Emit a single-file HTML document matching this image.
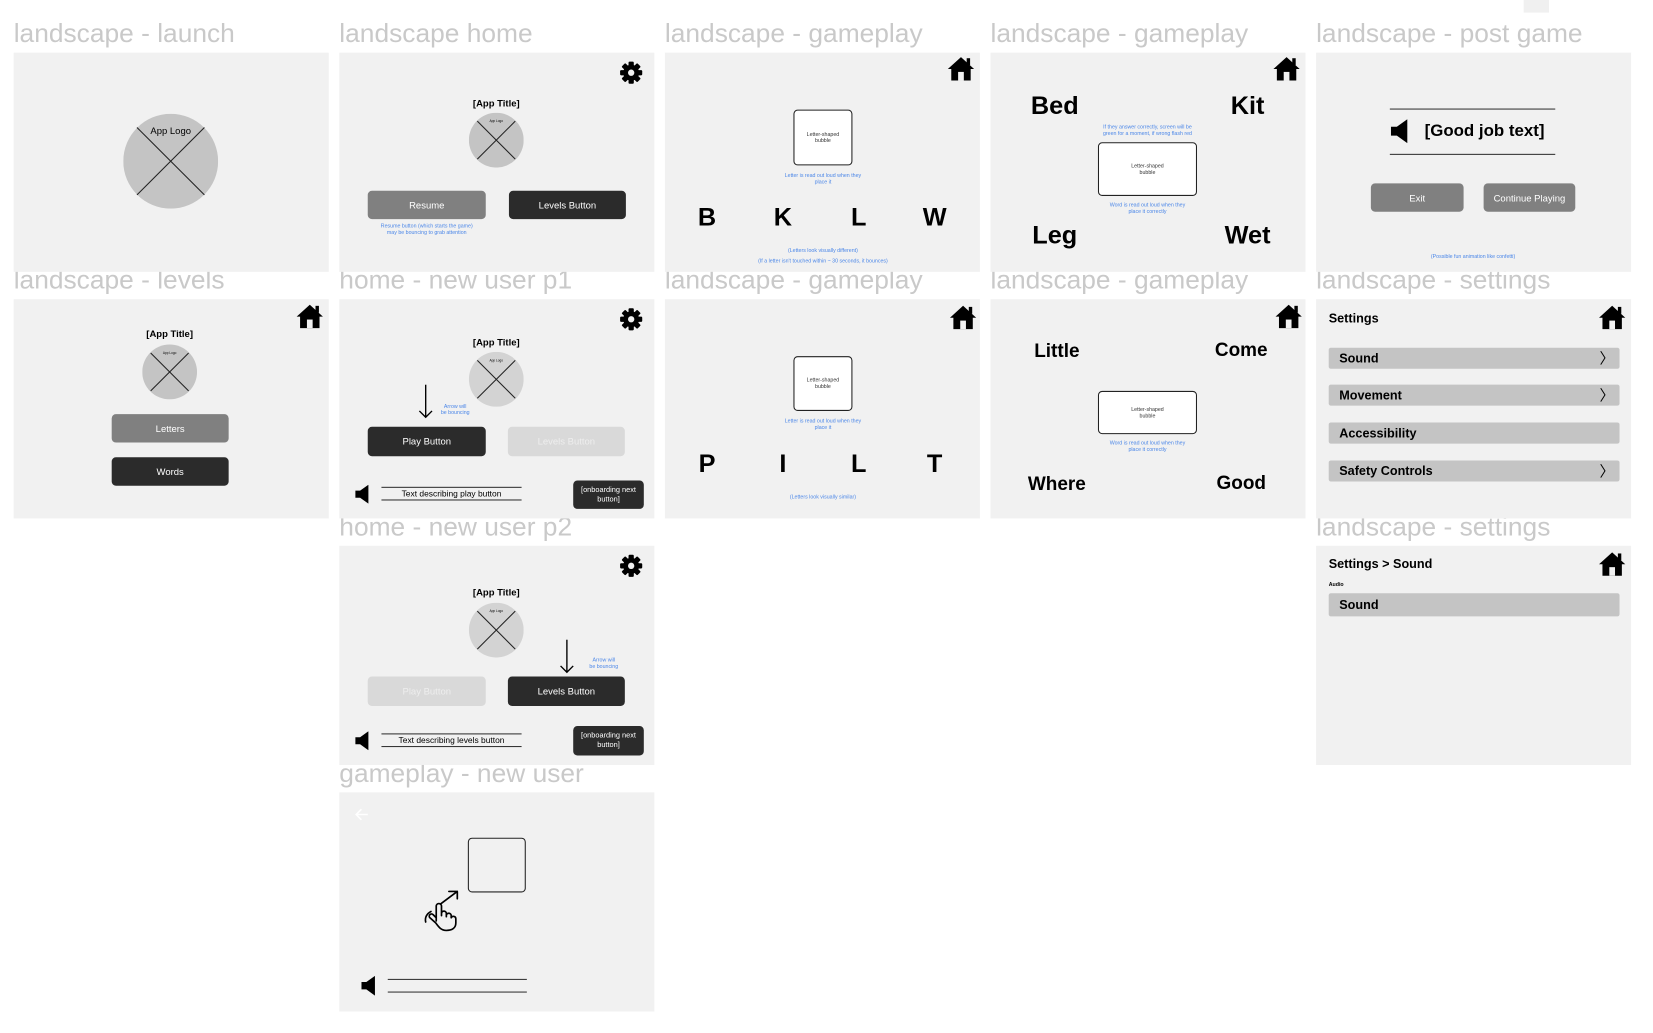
<!DOCTYPE html>
<html><head><meta charset="utf-8"><style>
html,body{margin:0;padding:0;background:#fff;width:1653px;height:1030px;overflow:hidden}
#w{position:absolute;left:0;top:0;width:1570px;height:980px;transform:scale(1.0537);transform-origin:0 0;font-family:"Liberation Sans",sans-serif}
.p{position:absolute;width:299px;height:208px;background:#f1f1f1}
.lbl{position:absolute;font-size:25px;color:#c9c9c9;white-space:nowrap;line-height:28px}
.a{position:absolute}
.c{position:absolute;width:240px;margin-left:-120px;text-align:center;white-space:nowrap}
.bt{position:absolute;border-radius:4px;color:#fff;font-size:9px;display:flex;align-items:center;justify-content:center;text-align:center;line-height:10px}
.dk{background:#2b2b2b}.md{background:#808080}.lt{background:#d9d9d9;color:#eee}
.blue{color:#4a86e8;font-size:5px;line-height:6px}
.bub{position:absolute;background:#fff;border:1.5px solid #222;border-radius:4px;box-sizing:border-box;font-size:5px;line-height:6px;display:flex;align-items:center;justify-content:center;text-align:center;color:#333}
.big{font-weight:bold;font-size:24px;color:#000;line-height:28px}
.wd{font-weight:bold;font-size:18px;color:#000;line-height:22px}
.row{position:absolute;left:12px;width:276px;height:20px;background:#c4c4c4;border-radius:2px;font-weight:bold;font-size:12px;line-height:20px;box-sizing:border-box;padding-left:10px}
.chev{position:absolute;right:5px;top:0;font-size:14px;font-weight:normal}
</style></head><body><div id="w">
<div class="a" style="left:1446px;top:0;width:24px;height:12px;background:#f0f0f0"></div>

<div class="lbl" style="left:13px;top:18px">landscape - launch</div>
<div class="lbl" style="left:322px;top:18px">landscape home</div>
<div class="lbl" style="left:631px;top:18px">landscape - gameplay</div>
<div class="lbl" style="left:940px;top:18px">landscape - gameplay</div>
<div class="lbl" style="left:1249px;top:18px">landscape - post game</div>
<div class="lbl" style="left:13px;top:252px">landscape - levels</div>
<div class="lbl" style="left:322px;top:252px">home - new user p1</div>
<div class="lbl" style="left:631px;top:252px">landscape - gameplay</div>
<div class="lbl" style="left:940px;top:252px">landscape - gameplay</div>
<div class="lbl" style="left:1249px;top:252px">landscape - settings</div>
<div class="lbl" style="left:322px;top:486px">home - new user p2</div>
<div class="lbl" style="left:1249px;top:486px">landscape - settings</div>
<div class="lbl" style="left:322px;top:720px">gameplay - new user</div>

<div class="p" style="left:13px;top:50px">
<svg class="a" style="left:104px;top:58px" width="90" height="90"><circle cx="45" cy="45" r="45" fill="#c4c4c4"/><line x1="13" y1="13" x2="77" y2="77" stroke="#222"/><line x1="77" y1="13" x2="13" y2="77" stroke="#222"/></svg>
<div class="c" style="left:149px;top:69px;font-size:9px">App Logo</div>
</div>

<div class="p" style="left:322px;top:50px">
<svg class="a" style="left:266px;top:8px" width="22" height="22" viewBox="-11 -11 22 22"><g fill="#000"><circle r="7.5"/><rect x="-2.5" y="-10.5" width="5" height="21" rx="1"/><rect x="-2.5" y="-10.5" width="5" height="21" rx="1" transform="rotate(45)"/><rect x="-2.5" y="-10.5" width="5" height="21" rx="1" transform="rotate(90)"/><rect x="-2.5" y="-10.5" width="5" height="21" rx="1" transform="rotate(135)"/></g><circle r="3" fill="#f1f1f1"/></svg>
<div class="c" style="left:149px;top:43px;font-size:9px;font-weight:bold">[App Title]</div>
<svg class="a" style="left:123px;top:57px" width="52" height="52"><circle cx="26" cy="26" r="26" fill="#c4c4c4"/><line x1="8" y1="8" x2="44" y2="44" stroke="#222"/><line x1="44" y1="8" x2="8" y2="44" stroke="#222"/></svg>
<div class="c" style="left:149px;top:63px;font-size:3px">App Logo</div>
<div class="bt md" style="left:27px;top:131px;width:112px;height:27px">Resume</div>
<div class="bt dk" style="left:161px;top:131px;width:111px;height:27px">Levels Button</div>
<div class="c blue" style="left:83px;top:162px">Resume button (which starts the game)<br>may be bouncing to grab attention</div>
</div>

<div class="p" style="left:13px;top:284px">
<svg class="a" style="left:268px;top:4px" width="26" height="24" viewBox="0 0 24 22"><path d="M12 1 L0.5 11.5 L3.5 11.5 L3.5 21.5 L20.5 21.5 L20.5 11.5 L23.5 11.5 Z" fill="#000"/><rect x="9.5" y="14" width="5" height="7.5" fill="#f1f1f1"/><rect x="17" y="2" width="3" height="6"/></svg>
<div class="c" style="left:148px;top:28px;font-size:9px;font-weight:bold">[App Title]</div>
<svg class="a" style="left:122px;top:43px" width="52" height="52"><circle cx="26" cy="26" r="26" fill="#c4c4c4"/><line x1="8" y1="8" x2="44" y2="44" stroke="#222"/><line x1="44" y1="8" x2="8" y2="44" stroke="#222"/></svg>
<div class="c" style="left:148px;top:49px;font-size:3px">App Logo</div>
<div class="bt md" style="left:93px;top:109px;width:111px;height:27px">Letters</div>
<div class="bt dk" style="left:93px;top:150px;width:111px;height:27px">Words</div>
</div>

<div class="p" style="left:322px;top:284px">
<svg class="a" style="left:266px;top:8px" width="22" height="22" viewBox="-11 -11 22 22"><g fill="#000"><circle r="7.5"/><rect x="-2.5" y="-10.5" width="5" height="21" rx="1"/><rect x="-2.5" y="-10.5" width="5" height="21" rx="1" transform="rotate(45)"/><rect x="-2.5" y="-10.5" width="5" height="21" rx="1" transform="rotate(90)"/><rect x="-2.5" y="-10.5" width="5" height="21" rx="1" transform="rotate(135)"/></g><circle r="3" fill="#f1f1f1"/></svg>
<div class="c" style="left:149px;top:36px;font-size:9px;font-weight:bold">[App Title]</div>
<svg class="a" style="left:123px;top:50px" width="52" height="52"><circle cx="26" cy="26" r="26" fill="#d3d3d3"/><line x1="8" y1="8" x2="44" y2="44" stroke="#222"/><line x1="44" y1="8" x2="8" y2="44" stroke="#222"/></svg>
<div class="c" style="left:149px;top:56px;font-size:3px">App Logo</div>
<svg class="a" style="left:75px;top:81px" width="14" height="33"><line x1="7" y1="0" x2="7" y2="31" stroke="#000" stroke-width="1.3"/><path d="M1 25 L7 31 L13 25" fill="none" stroke="#000" stroke-width="1.3"/></svg>
<div class="c blue" style="left:110px;top:99px">Arrow will<br>be bouncing</div>
<div class="bt dk" style="left:27px;top:121px;width:112px;height:28px">Play Button</div>
<div class="bt lt" style="left:160px;top:121px;width:111px;height:28px">Levels Button</div>
<svg class="a" style="left:15px;top:176px" width="14" height="18" viewBox="0 0 12 16"><path d="M0 5 H4 L11 0 V16 L4 11 H0Z" fill="#000"/></svg>
<div class="a" style="left:40px;top:178px;width:133px;height:11px;border-top:1px solid #333;border-bottom:1px solid #333;font-size:8px;text-align:center;line-height:11px">Text describing play button</div>
<div class="bt dk" style="left:222px;top:172px;width:67px;height:27px;font-size:7px;line-height:9px">[onboarding next<br>button]</div>
</div>

<div class="p" style="left:322px;top:518px">
<svg class="a" style="left:266px;top:8px" width="22" height="22" viewBox="-11 -11 22 22"><g fill="#000"><circle r="7.5"/><rect x="-2.5" y="-10.5" width="5" height="21" rx="1"/><rect x="-2.5" y="-10.5" width="5" height="21" rx="1" transform="rotate(45)"/><rect x="-2.5" y="-10.5" width="5" height="21" rx="1" transform="rotate(90)"/><rect x="-2.5" y="-10.5" width="5" height="21" rx="1" transform="rotate(135)"/></g><circle r="3" fill="#f1f1f1"/></svg>
<div class="c" style="left:149px;top:39px;font-size:9px;font-weight:bold">[App Title]</div>
<svg class="a" style="left:123px;top:54px" width="52" height="52"><circle cx="26" cy="26" r="26" fill="#d3d3d3"/><line x1="8" y1="8" x2="44" y2="44" stroke="#222"/><line x1="44" y1="8" x2="8" y2="44" stroke="#222"/></svg>
<div class="c" style="left:149px;top:60px;font-size:3px">App Logo</div>
<svg class="a" style="left:209px;top:89px" width="14" height="33"><line x1="7" y1="0" x2="7" y2="31" stroke="#000" stroke-width="1.3"/><path d="M1 25 L7 31 L13 25" fill="none" stroke="#000" stroke-width="1.3"/></svg>
<div class="c blue" style="left:251px;top:106px">Arrow will<br>be bouncing</div>
<div class="bt lt" style="left:27px;top:124px;width:112px;height:28px">Play Button</div>
<div class="bt dk" style="left:160px;top:124px;width:111px;height:28px">Levels Button</div>
<svg class="a" style="left:15px;top:176px" width="14" height="18" viewBox="0 0 12 16"><path d="M0 5 H4 L11 0 V16 L4 11 H0Z" fill="#000"/></svg>
<div class="a" style="left:40px;top:178px;width:133px;height:11px;border-top:1px solid #333;border-bottom:1px solid #333;font-size:8px;text-align:center;line-height:11px">Text describing levels button</div>
<div class="bt dk" style="left:222px;top:171px;width:67px;height:28px;font-size:7px;line-height:9px">[onboarding next<br>button]</div>
</div>

<div class="p" style="left:322px;top:752px">
<svg class="a" style="left:14px;top:15px" width="14" height="12"><path d="M13 6 H2 M7 1 L2 6 L7 11" fill="none" stroke="#fff" stroke-width="1.5"/></svg>
<div class="a" style="left:122px;top:43px;width:55px;height:52px;border:1.5px solid #222;border-radius:4px;box-sizing:border-box"></div>
<svg class="a" style="left:78px;top:92px" width="38" height="40" viewBox="0 0 38 40"><g fill="none" stroke="#000" stroke-width="1.6" stroke-linecap="round" stroke-linejoin="round"><path d="M18 14 L34 2 M26 2 H34 V9"/><path d="M14 30 V16 a2.5 2.5 0 0 1 5 0 V25 M19 23 a2.3 2.3 0 0 1 4.6 0 V26 M23.6 25 a2.3 2.3 0 0 1 4.6 0 V27 M28.2 27 a2.3 2.3 0 0 1 4.4 1 V32 c0 5 -4 7 -9 7 c-5 0 -7 -3 -10 -7 L8 27 a2 2 0 0 1 3 -3 L14 27"/><path d="M9 21 c-4 2 -6 6 -5 10"/></g></svg>
<svg class="a" style="left:21px;top:174px" width="14" height="19" viewBox="0 0 12 16"><path d="M0 5 H4 L11 0 V16 L4 11 H0Z" fill="#000"/></svg>
<div class="a" style="left:46px;top:177px;width:132px;height:11px;border-top:1px solid #333;border-bottom:1px solid #333"></div>
</div>

<div class="p" style="left:631px;top:50px">
<svg class="a" style="left:268px;top:3px" width="26" height="24" viewBox="0 0 24 22"><path d="M12 1 L0.5 11.5 L3.5 11.5 L3.5 21.5 L20.5 21.5 L20.5 11.5 L23.5 11.5 Z" fill="#000"/><rect x="9.5" y="14" width="5" height="7.5" fill="#f1f1f1"/><rect x="17" y="2" width="3" height="6"/></svg>
<div class="bub" style="left:122px;top:54px;width:56px;height:53px">Letter-shaped<br>bubble</div>
<div class="c blue" style="left:150px;top:114px">Letter is read out loud when they<br>place it</div>
<div class="c big" style="left:40px;top:143px">B</div>
<div class="c big" style="left:112px;top:143px">K</div>
<div class="c big" style="left:184px;top:143px">L</div>
<div class="c big" style="left:256px;top:143px">W</div>
<div class="c blue" style="left:150px;top:185px">(Letters look visually different)</div>
<div class="c blue" style="left:150px;top:195px">(If a letter isn't touched within ~ 30 seconds, it bounces)</div>
</div>

<div class="p" style="left:940px;top:50px">
<svg class="a" style="left:268px;top:3px" width="26" height="24" viewBox="0 0 24 22"><path d="M12 1 L0.5 11.5 L3.5 11.5 L3.5 21.5 L20.5 21.5 L20.5 11.5 L23.5 11.5 Z" fill="#000"/><rect x="9.5" y="14" width="5" height="7.5" fill="#f1f1f1"/><rect x="17" y="2" width="3" height="6"/></svg>
<div class="c big" style="left:61px;top:37px">Bed</div>
<div class="c big" style="left:244px;top:37px">Kit</div>
<div class="c blue" style="left:149px;top:68px">If they answer correctly, screen will be<br>green for a moment, if wrong flash red</div>
<div class="bub" style="left:102px;top:85px;width:94px;height:51px">Letter-shaped<br>bubble</div>
<div class="c blue" style="left:149px;top:142px">Word is read out loud when they<br>place it correctly</div>
<div class="c big" style="left:61px;top:160px">Leg</div>
<div class="c big" style="left:244px;top:160px">Wet</div>
</div>

<div class="p" style="left:1249px;top:50px">
<div class="a" style="left:70px;top:53px;width:157px;height:42px;border-top:1.5px solid #333;border-bottom:1.5px solid #333"></div>
<svg class="a" style="left:71px;top:63px" width="17" height="23" viewBox="0 0 12 16"><path d="M0 5 H4 L11 0 V16 L4 11 H0Z" fill="#000"/></svg>
<div class="a" style="left:103px;top:65px;font-size:16px;font-weight:bold;line-height:20px;white-space:nowrap">[Good job text]</div>
<div class="bt md" style="left:52px;top:124px;width:88px;height:27px">Exit</div>
<div class="bt md" style="left:159px;top:124px;width:87px;height:27px">Continue Playing</div>
<div class="c blue" style="left:149px;top:191px">(Possible fun animation like confetti)</div>
</div>

<div class="p" style="left:631px;top:284px">
<svg class="a" style="left:270px;top:5px" width="26" height="24" viewBox="0 0 24 22"><path d="M12 1 L0.5 11.5 L3.5 11.5 L3.5 21.5 L20.5 21.5 L20.5 11.5 L23.5 11.5 Z" fill="#000"/><rect x="9.5" y="14" width="5" height="7.5" fill="#f1f1f1"/><rect x="17" y="2" width="3" height="6"/></svg>
<div class="bub" style="left:122px;top:54px;width:56px;height:52px">Letter-shaped<br>bubble</div>
<div class="c blue" style="left:150px;top:113px">Letter is read out loud when they<br>place it</div>
<div class="c big" style="left:40px;top:143px">P</div>
<div class="c big" style="left:112px;top:143px">I</div>
<div class="c big" style="left:184px;top:143px">L</div>
<div class="c big" style="left:256px;top:143px">T</div>
<div class="c blue" style="left:150px;top:185px">(Letters look visually similar)</div>
</div>

<div class="p" style="left:940px;top:284px">
<svg class="a" style="left:270px;top:4px" width="26" height="24" viewBox="0 0 24 22"><path d="M12 1 L0.5 11.5 L3.5 11.5 L3.5 21.5 L20.5 21.5 L20.5 11.5 L23.5 11.5 Z" fill="#000"/><rect x="9.5" y="14" width="5" height="7.5" fill="#f1f1f1"/><rect x="17" y="2" width="3" height="6"/></svg>
<div class="c wd" style="left:63px;top:38px">Little</div>
<div class="c wd" style="left:238px;top:37px">Come</div>
<div class="bub" style="left:102px;top:87px;width:94px;height:41px">Letter-shaped<br>bubble</div>
<div class="c blue" style="left:149px;top:134px">Word is read out loud when they<br>place it correctly</div>
<div class="c wd" style="left:63px;top:164px">Where</div>
<div class="c wd" style="left:238px;top:163px">Good</div>
</div>

<div class="p" style="left:1249px;top:284px">
<div class="a" style="left:12px;top:11px;font-size:12px;font-weight:bold">Settings</div>
<svg class="a" style="left:268px;top:5px" width="26" height="24" viewBox="0 0 24 22"><path d="M12 1 L0.5 11.5 L3.5 11.5 L3.5 21.5 L20.5 21.5 L20.5 11.5 L23.5 11.5 Z" fill="#000"/><rect x="9.5" y="14" width="5" height="7.5" fill="#f1f1f1"/><rect x="17" y="2" width="3" height="6"/></svg>
<div class="row" style="top:46px">Sound<span class="chev">〉</span></div>
<div class="row" style="top:81px">Movement<span class="chev">〉</span></div>
<div class="row" style="top:117px">Accessibility</div>
<div class="row" style="top:153px">Safety Controls<span class="chev">〉</span></div>
</div>

<div class="p" style="left:1249px;top:518px">
<div class="a" style="left:12px;top:10px;font-size:12px;font-weight:bold">Settings &gt; Sound</div>
<svg class="a" style="left:268px;top:5px" width="26" height="24" viewBox="0 0 24 22"><path d="M12 1 L0.5 11.5 L3.5 11.5 L3.5 21.5 L20.5 21.5 L20.5 11.5 L23.5 11.5 Z" fill="#000"/><rect x="9.5" y="14" width="5" height="7.5" fill="#f1f1f1"/><rect x="17" y="2" width="3" height="6"/></svg>
<div class="a" style="left:12px;top:34px;font-size:5px;font-weight:bold">Audio</div>
<div class="row" style="top:45px;height:22px;line-height:22px">Sound</div>
</div>
</div></body></html>
